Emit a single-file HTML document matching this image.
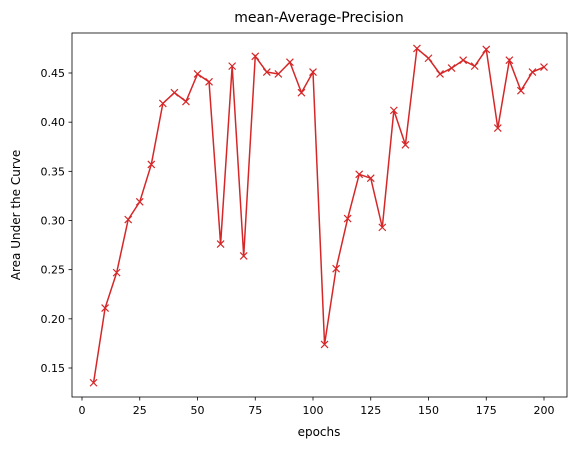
<!DOCTYPE html>
<html><head><meta charset="utf-8"><style>
body{margin:0;background:#fff;font-family:"Liberation Sans","DejaVu Sans",sans-serif}
svg text{font-family:"DejaVu Sans","Liberation Sans",sans-serif;fill:#000}
</style></head><body>
<svg id="chart" width="576" height="453" xmlns="http://www.w3.org/2000/svg">
<rect x="0" y="0" width="576" height="453" fill="#fff"/>
<text x="319" y="22" font-size="14" text-anchor="middle">mean-Average-Precision</text>
<text x="319" y="436" font-size="12" text-anchor="middle">epochs</text>
<text x="20" y="215" font-size="12" text-anchor="middle" transform="rotate(-90 20 215)">Area Under the Curve</text>
<g id="ticks"></g>
<g id="series"></g>
<rect x="72" y="33" width="495" height="364" fill="none" stroke="#000" stroke-width="0.8"/>
</svg>
<script>
const epochs=[5,10,15,20,25,30,35,40,45,50,55,60,65,70,75,80,85,90,95,100,105,110,115,120,125,130,135,140,145,150,155,160,165,170,175,180,185,190,195,200];
const mapValues=[0.135,0.211,0.247,0.301,0.319,0.357,0.419,0.430,0.421,0.449,0.441,0.276,0.457,0.264,0.467,0.451,0.449,0.461,0.430,0.451,0.174,0.251,0.302,0.347,0.343,0.293,0.412,0.377,0.475,0.465,0.449,0.455,0.463,0.457,0.474,0.394,0.463,0.432,0.451,0.456];
const xTicks=[0,25,50,75,100,125,150,175,200];
const yTicks=[0.15,0.20,0.25,0.30,0.35,0.40,0.45];
const NS="http://www.w3.org/2000/svg";
const xs=v=>82+v*(544-82)/200;
const ys=v=>368-(v-0.15)*(295/0.3);
const tg=document.getElementById('ticks');
function mk(t,a,p){const e=document.createElementNS(NS,t);for(const k in a)e.setAttribute(k,a[k]);p.appendChild(e);return e;}
xTicks.forEach(t=>{
 const l=mk('line',{x1:xs(t),x2:xs(t),y1:397,y2:400.5,stroke:'#000','stroke-width':0.8},tg);
 
 
 const tx=mk('text',{x:xs(t),y:414,'font-size':11,'text-anchor':'middle'},tg);tx.textContent=t;
 
 
});
yTicks.forEach(t=>{
 const l=mk('line',{x1:68.5,x2:72,y1:ys(t),y2:ys(t),stroke:'#000','stroke-width':0.8},tg);
 
 
 const tx=mk('text',{x:65,y:ys(t)+4,'font-size':11,'text-anchor':'end'},tg);tx.textContent=t.toFixed(2);
 
 
});
const sg=document.getElementById('series');
const pts=epochs.map((e,i)=>xs(e)+','+ys(mapValues[i])).join(' ');
const pl=mk('polyline',{points:pts,fill:'none',stroke:'#d62728','stroke-width':1.5},sg);


epochs.forEach((e,i)=>{
 const x=xs(e),y=ys(mapValues[i]),s=3.5;
 const p=mk('path',{d:`M${x-s},${y-s}L${x+s},${y+s}M${x-s},${y+s}L${x+s},${y-s}`,stroke:'#d62728','stroke-width':1.2},sg);
 
 
});
</script>
</body></html>
